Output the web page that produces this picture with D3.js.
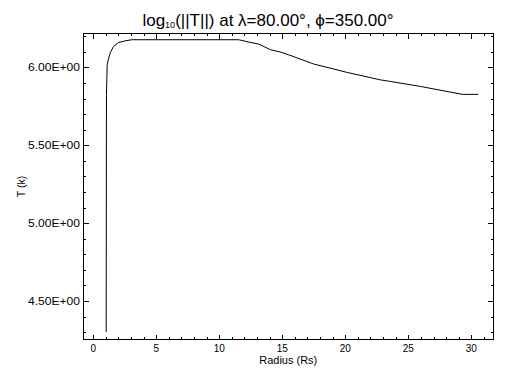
<!DOCTYPE html>
<html>
<head>
<meta charset="utf-8">
<script src="https://cdn.jsdelivr.net/npm/d3@7"></script>
<style>
  html, body { margin: 0; padding: 0; background: #fff; }
  svg { display: block; }
  text { font-family: "Liberation Sans", "DejaVu Sans", sans-serif; fill: #000; }
</style>
</head>
<body>
<svg id="chart" width="512" height="384"></svg>
<script>
// ---- data ----
const radius = [1.03, 1.05, 1.11, 1.2, 1.35, 1.61, 2.01, 2.54, 3.07, 5, 8, 11.54, 12.34, 13.13, 14.06, 14.85, 15.51, 17.5, 20.15, 22.8, 23.59, 25.97, 29.29, 30.56];
const logT   = [4.30, 5.82, 6.017, 6.05, 6.094, 6.135, 6.16, 6.171, 6.178, 6.178, 6.178, 6.178, 6.163, 6.15, 6.114, 6.099, 6.081, 6.022, 5.968, 5.92, 5.91, 5.878, 5.827, 5.827];
const xMajorTicks = [0, 5, 10, 15, 20, 25, 30];
const yMajorTicks = [4.5, 5.0, 5.5, 6.0];
const yTickLabels = ["4.50E+00", "5.00E+00", "5.50E+00", "6.00E+00"];
const xMinorTicks = d3.range(0, 32, 1);
const yMinorTicks = d3.range(43, 63, 1).map(d => d / 10);
const titleText = { pre: "log", sub: "10", post: "(||T||) at \u03BB=80.00\u00B0, \u03D5=350.00\u00B0" };
const xLabel = "Radius (Rs)";
const yLabel = "T (k)";

// ---- layout ----
const L = 83.5, R = 493, T = 33.5, B = 339.5;
const svg = d3.select("#chart");
const x = d3.scaleLinear().domain([-0.77, 31.72]).range([L, R]);
const y = d3.scaleLinear().domain([4.253, 6.218]).range([B, T]);

const g = svg.append("g");

// frame
g.append("rect").attr("x", L).attr("y", T).attr("width", R - L).attr("height", B - T)
  .attr("fill", "none").attr("stroke", "#000").attr("stroke-width", 1)
  .attr("shape-rendering", "crispEdges");

function tickAxis(axisFn, scale, ticks, size, transform) {
  const a = axisFn(scale).tickValues(ticks).tickSize(size).tickFormat("");
  const sel = g.append("g").attr("transform", transform).call(a);
  sel.select(".domain").remove();
  sel.selectAll("line").attr("stroke", "#000").attr("shape-rendering", "crispEdges");
  return sel;
}
// bottom / top
tickAxis(d3.axisBottom, x, xMinorTicks, -2.5, `translate(0,${B})`);
tickAxis(d3.axisBottom, x, xMajorTicks, -5, `translate(0,${B})`);
tickAxis(d3.axisTop, x, xMinorTicks, -2.5, `translate(0,${T})`);
tickAxis(d3.axisTop, x, xMajorTicks, -5, `translate(0,${T})`);
// left / right
tickAxis(d3.axisLeft, y, yMinorTicks, -2.5, `translate(${L},0)`);
tickAxis(d3.axisLeft, y, yMajorTicks, -5, `translate(${L},0)`);
tickAxis(d3.axisRight, y, yMinorTicks, -2.5, `translate(${R},0)`);
tickAxis(d3.axisRight, y, yMajorTicks, -5, `translate(${R},0)`);

// x tick labels
g.selectAll(".xl").data(xMajorTicks).enter().append("text")
  .attr("x", d => x(d)).attr("y", B + 12.5)
  .attr("text-anchor", "middle").attr("font-size", 10)
  .text(d => d);

// y tick labels
g.selectAll(".yl").data(yMajorTicks).enter().append("text")
  .attr("x", L - 3.5).attr("y", d => y(d) + 3.5)
  .attr("text-anchor", "end").attr("font-size", 10)
  .attr("textLength", 52).attr("lengthAdjust", "spacingAndGlyphs")
  .text((d, i) => yTickLabels[i]);

// axis titles
g.append("text").attr("x", (L + R) / 2).attr("y", B + 24.5)
  .attr("text-anchor", "middle").attr("font-size", 10.5)
  .attr("textLength", 58).attr("lengthAdjust", "spacingAndGlyphs")
  .text(xLabel);
g.append("text").attr("transform", `translate(25,${(T + B) / 2}) rotate(-90)`)
  .attr("text-anchor", "middle").attr("font-size", 10.5)
  .text(yLabel);

// title
const tt = g.append("text").attr("x", 268).attr("y", 26)
  .attr("text-anchor", "middle").attr("font-size", 17);
tt.append("tspan").text(titleText.pre);
tt.append("tspan").attr("font-size", 9).attr("dy", 2).text(titleText.sub);
tt.append("tspan").attr("dy", -2).text(titleText.post);

// curve
const line = d3.line().x((d, i) => x(radius[i])).y(d => y(d));
g.append("path").datum(logT).attr("d", line)
  .attr("fill", "none").attr("stroke", "#000").attr("stroke-width", 1);
</script>
</body>
</html>
